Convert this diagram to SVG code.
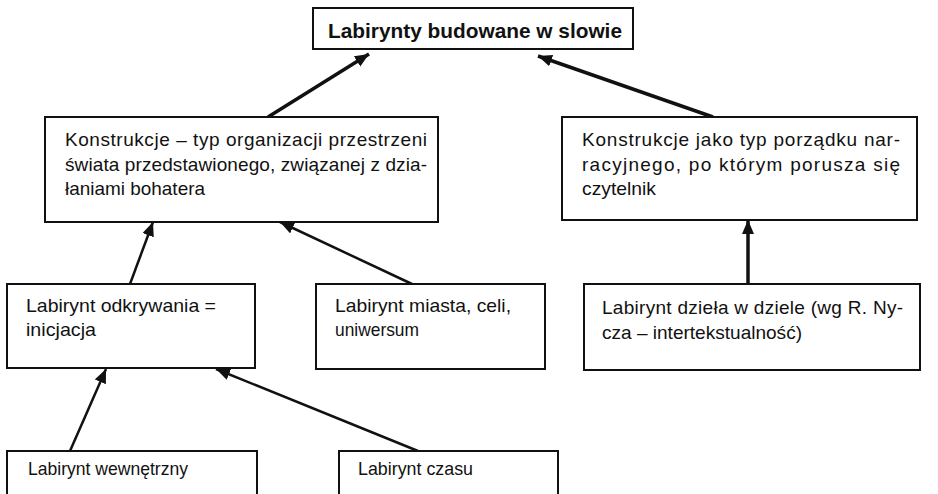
<svg xmlns="http://www.w3.org/2000/svg" width="938" height="494" viewBox="0 0 938 494">
<style>
.box{fill:#fff;stroke:#111;stroke-width:2}
.t{font-family:"Liberation Sans",Arial,sans-serif;font-size:19px;fill:#111}
.tb{font-family:"Liberation Sans",Arial,sans-serif;font-size:21px;font-weight:bold;fill:#111}
.c{stroke:#111;stroke-width:2.5;fill:none;marker-end:url(#ah)}
.ct{stroke:#111;stroke-width:3.5;fill:none;marker-end:url(#ah)}
</style>
<defs>
<marker id="ah" markerUnits="userSpaceOnUse" markerWidth="16" markerHeight="14" refX="14" refY="6" orient="auto">
<path d="M0,0 L14,6 L0,12 Z" fill="#111"/>
</marker>
</defs>
<rect width="938" height="494" fill="#fff"/>
<g id="connectors">
<line class="ct" x1="268" y1="117" x2="369" y2="54"/>
<line class="ct" x1="713" y1="117" x2="538" y2="56"/>
<line class="c" x1="130" y1="284" x2="153" y2="222"/>
<line class="c" x1="412" y1="284" x2="280" y2="222"/>
<line class="ct" x1="748" y1="284" x2="748" y2="220"/>
<line class="c" x1="70" y1="451" x2="106" y2="369"/>
<line class="c" x1="418" y1="451" x2="216" y2="369"/>
</g>
<g id="n1">
<rect class="box" x="313" y="8" width="320" height="41"/>
<text class="tb" x="328" y="38" textLength="294" lengthAdjust="spacingAndGlyphs">Labirynty budowane w slowie</text>
</g>
<g id="n2">
<rect class="box" x="45" y="117" width="393" height="105"/>
<text class="t" x="65" y="146" textLength="362" lengthAdjust="spacing">Konstrukcje – typ organizacji przestrzeni</text>
<text class="t" x="65" y="171" textLength="362" lengthAdjust="spacing">świata przedstawionego, związanej z dzia-</text>
<text class="t" x="65" y="195" textLength="140" lengthAdjust="spacingAndGlyphs">łaniami bohatera</text>
</g>
<g id="n3">
<rect class="box" x="562" y="117" width="355" height="103"/>
<text class="t" x="582" y="146" textLength="318" lengthAdjust="spacing">Konstrukcje jako typ porządku nar-</text>
<text class="t" x="582" y="171" textLength="318" lengthAdjust="spacing">racyjnego, po którym porusza się</text>
<text class="t" x="582" y="195" textLength="74" lengthAdjust="spacingAndGlyphs">czytelnik</text>
</g>
<g id="n4">
<rect class="box" x="7" y="284" width="248" height="84"/>
<text class="t" x="26" y="312" textLength="190" lengthAdjust="spacingAndGlyphs">Labirynt odkrywania =</text>
<text class="t" x="26" y="336" textLength="70" lengthAdjust="spacingAndGlyphs">inicjacja</text>
</g>
<g id="n5">
<rect class="box" x="316" y="284" width="229" height="85"/>
<text class="t" x="335" y="312" textLength="176" lengthAdjust="spacingAndGlyphs">Labirynt miasta, celi,</text>
<text class="t" x="335" y="336" textLength="84" lengthAdjust="spacingAndGlyphs">uniwersum</text>
</g>
<g id="n6">
<rect class="box" x="584" y="284" width="336" height="86"/>
<text class="t" x="602" y="314" textLength="301" lengthAdjust="spacing">Labirynt dzieła w dziele (wg R. Ny-</text>
<text class="t" x="602" y="339" textLength="200" lengthAdjust="spacingAndGlyphs">cza – intertekstualność)</text>
</g>
<g id="n7">
<rect class="box" x="7" y="451" width="250" height="60"/>
<text class="t" x="28" y="475" textLength="160" lengthAdjust="spacingAndGlyphs">Labirynt wewnętrzny</text>
</g>
<g id="n8">
<rect class="box" x="339" y="451" width="219" height="60"/>
<text class="t" x="358" y="475" textLength="115" lengthAdjust="spacingAndGlyphs">Labirynt czasu</text>
</g>
</svg>
